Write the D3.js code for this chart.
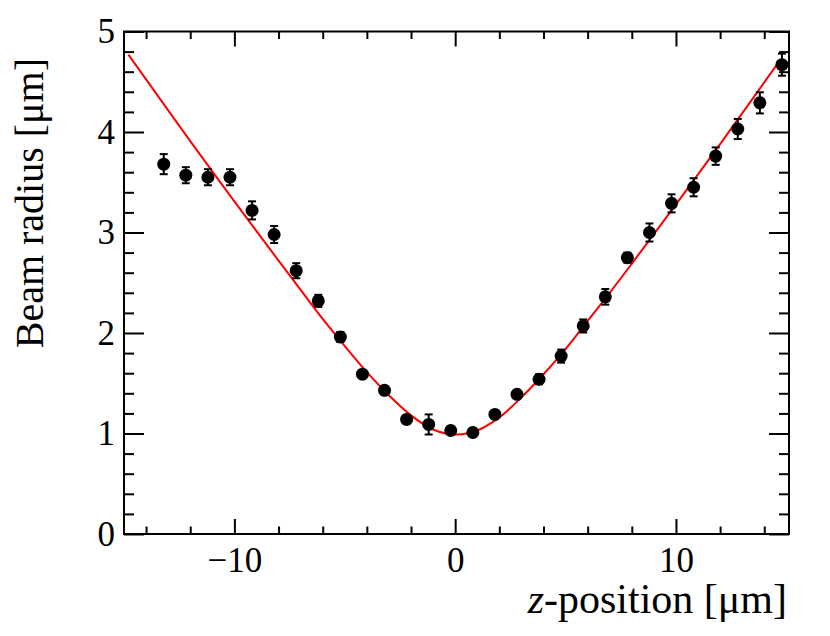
<!DOCTYPE html>
<html>
<head>
<meta charset="utf-8">
<script src="https://cdn.jsdelivr.net/npm/d3@7"></script>
<style>
  body { margin: 0; background: #fff; }
  svg { display: block; }
</style>
</head>
<body>
<div id="chart"></div>
<script>
// Measured points: z-position [um], beam radius [um], error
const zPos = [-13.2, -12.2, -11.2, -10.2, -9.2, -8.2, -7.2, -6.2, -5.2, -4.2,
              -3.2, -2.2, -1.2, -0.2, 0.8, 1.8, 2.8, 3.8, 4.8, 5.8,
              6.8, 7.8, 8.8, 9.8, 10.8, 11.8, 12.8, 13.8, 14.8];
const radius = [3.68, 3.57, 3.55, 3.55, 3.22, 2.98, 2.62, 2.32, 1.96, 1.59,
                1.43, 1.14, 1.09, 1.03, 1.01, 1.19, 1.39, 1.54, 1.77, 2.07,
                2.36, 2.75, 3.00, 3.29, 3.45, 3.76, 4.03, 4.29, 4.67];
const radiusErr = [0.10, 0.08, 0.08, 0.08, 0.09, 0.085, 0.075, 0.06, 0.05, 0.04,
                   0.04, 0.04, 0.10, 0.04, 0.04, 0.04, 0.04, 0.05, 0.065, 0.065,
                   0.078, 0.05, 0.09, 0.09, 0.09, 0.087, 0.10, 0.105, 0.11];

// Fit curve
const fitZ = [-14.8, -12, -10, -8, -7, -6, -5, -4, -3, -2, -1, 0, 1, 2, 3, 4, 5, 6, 7, 8, 10, 12, 14.7];
const fitR = [4.77, 3.91, 3.31, 2.72, 2.43, 2.14, 1.87, 1.61, 1.38, 1.18, 1.04, 0.99,
              1.03, 1.16, 1.36, 1.59, 1.84, 2.12, 2.40, 2.69, 3.28, 3.88, 4.71];

const xMajor = [-10, 0, 10];
const yMajor = [0, 1, 2, 3, 4, 5];

const width = 830, height = 636;
const plotLeft = 124, plotRight = 789, plotTop = 31.5, plotBottom = 534;
const font = "'Liberation Serif', 'Times New Roman', serif";

const svg = d3.select("#chart").append("svg")
    .attr("width", width)
    .attr("height", height)
    .style("background", "#fff");

const x = d3.scaleLinear().domain([-15, 15.12]).range([plotLeft, plotRight]);
const y = d3.scaleLinear().domain([0, 5]).range([plotBottom, plotTop]);

const xMinor = d3.range(-14, 16, 2).filter(v => !xMajor.includes(v));
const yMinor = d3.range(0, 5.01, 0.2).map(v => +v.toFixed(1)).filter(v => !yMajor.includes(v));
const fmt = d3.format("d");

function styleAxis(g) {
    g.select(".domain").remove();
    g.selectAll("line").attr("stroke", "#000").attr("stroke-width", 2);
    g.selectAll("text").style("font-family", font).style("font-size", "35px").attr("fill", "#000");
}

// Bottom axis
svg.append("g").attr("transform", `translate(0,${plotBottom})`)
    .call(d3.axisBottom(x).tickValues(xMajor).tickFormat(fmt).tickSize(-15).tickPadding(13))
    .call(styleAxis);
svg.append("g").attr("transform", `translate(0,${plotBottom})`)
    .call(d3.axisBottom(x).tickValues(xMinor).tickSize(-7.5).tickFormat(""))
    .call(styleAxis);
// Top axis
svg.append("g").attr("transform", `translate(0,${plotTop})`)
    .call(d3.axisTop(x).tickValues(xMajor).tickSize(-15).tickFormat(""))
    .call(styleAxis);
svg.append("g").attr("transform", `translate(0,${plotTop})`)
    .call(d3.axisTop(x).tickValues(xMinor).tickSize(-7.5).tickFormat(""))
    .call(styleAxis);
// Left axis
svg.append("g").attr("transform", `translate(${plotLeft},0)`)
    .call(d3.axisLeft(y).tickValues(yMajor).tickFormat(fmt).tickSize(-20).tickPadding(9))
    .call(styleAxis);
svg.append("g").attr("transform", `translate(${plotLeft},0)`)
    .call(d3.axisLeft(y).tickValues(yMinor).tickSize(-10).tickFormat(""))
    .call(styleAxis);
// Right axis
svg.append("g").attr("transform", `translate(${plotRight},0)`)
    .call(d3.axisRight(y).tickValues(yMajor).tickSize(-20).tickFormat(""))
    .call(styleAxis);
svg.append("g").attr("transform", `translate(${plotRight},0)`)
    .call(d3.axisRight(y).tickValues(yMinor).tickSize(-10).tickFormat(""))
    .call(styleAxis);

// Frame
svg.append("rect")
    .attr("x", plotLeft).attr("y", plotTop)
    .attr("width", plotRight - plotLeft).attr("height", plotBottom - plotTop)
    .attr("fill", "none").attr("stroke", "#000").attr("stroke-width", 2);

// Fit curve
const fitData = fitZ.map((z, i) => ({ z: z, r: fitR[i] }));
svg.append("path")
    .datum(fitData)
    .attr("fill", "none")
    .attr("stroke", "#ff0000")
    .attr("stroke-width", 2)
    .attr("d", d3.line().x(d => x(d.z)).y(d => y(d.r)).curve(d3.curveCatmullRom.alpha(0.5)));

// Data points with error bars
const points = zPos.map((z, i) => ({ z: z, r: radius[i], e: radiusErr[i] }));
const pg = svg.append("g").selectAll("g").data(points).enter().append("g");

pg.append("line")
    .attr("x1", d => x(d.z)).attr("x2", d => x(d.z))
    .attr("y1", d => y(d.r - d.e)).attr("y2", d => y(d.r + d.e))
    .attr("stroke", "#000").attr("stroke-width", 2);
pg.append("line")
    .attr("x1", d => x(d.z) - 4).attr("x2", d => x(d.z) + 4)
    .attr("y1", d => y(d.r + d.e)).attr("y2", d => y(d.r + d.e))
    .attr("stroke", "#000").attr("stroke-width", 2);
pg.append("line")
    .attr("x1", d => x(d.z) - 4).attr("x2", d => x(d.z) + 4)
    .attr("y1", d => y(d.r - d.e)).attr("y2", d => y(d.r - d.e))
    .attr("stroke", "#000").attr("stroke-width", 2);
pg.append("circle")
    .attr("cx", d => x(d.z)).attr("cy", d => y(d.r))
    .attr("r", 6.5)
    .attr("fill", "#000");

// Axis titles
const xt = svg.append("text")
    .attr("x", 787).attr("y", 613)
    .attr("text-anchor", "end")
    .style("font-family", font).style("font-size", "42px");
xt.append("tspan").style("font-style", "italic").text("z");
xt.append("tspan").text("-position [μm]");

svg.append("text")
    .attr("transform", "translate(43,58) rotate(-90)")
    .attr("text-anchor", "end")
    .style("font-family", font).style("font-size", "40px")
    .text("Beam radius [μm]");
</script>
</body>
</html>
